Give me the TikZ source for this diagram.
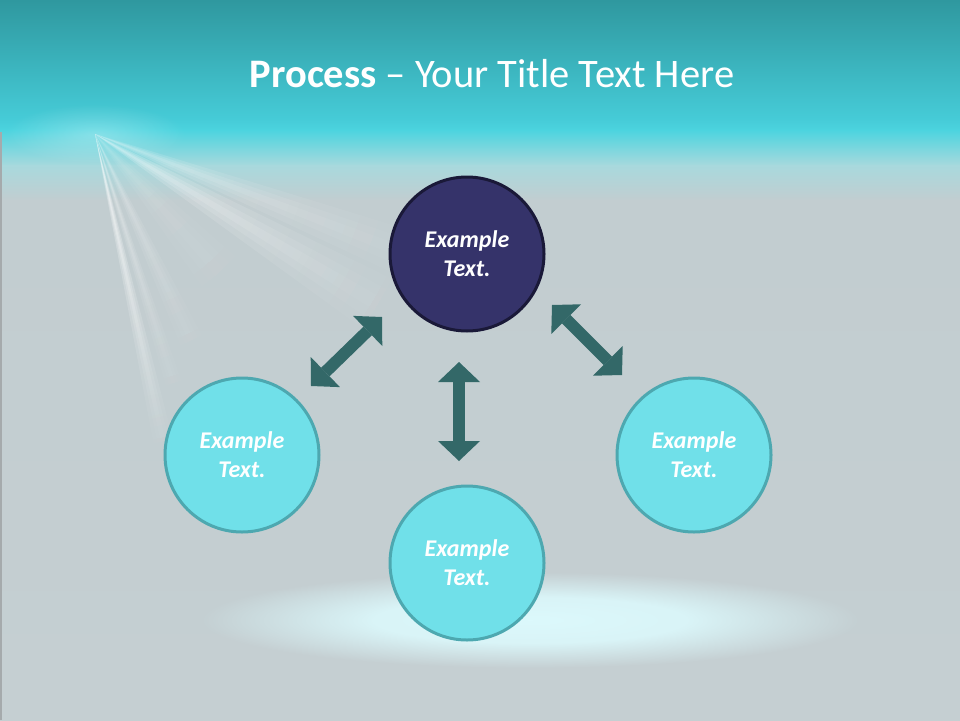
\documentclass[tikz,border=0pt]{standalone}
\usepackage{fontspec}
\setmainfont{Carlito}
\usetikzlibrary{arrows.meta,fadings}

\definecolor{bgA}{HTML}{2F989F}
\definecolor{bgB}{HTML}{46CCD8}
\definecolor{bgC}{HTML}{4CD4DF}
\definecolor{bgD}{HTML}{A8D9DD}
\definecolor{bgE}{HTML}{C2CDD0}
\definecolor{bgF}{HTML}{C5CFD2}
\definecolor{edgec}{HTML}{A5AAAC}
\definecolor{navy}{HTML}{35336A}
\definecolor{navyline}{HTML}{1A1938}
\definecolor{cyanfill}{HTML}{70E0E9}
\definecolor{cyanline}{HTML}{4DA8B0}
\definecolor{arrowc}{HTML}{336868}
\definecolor{glowc}{HTML}{DCF9FC}

\tikzfading[name=rayfade, inner color=transparent!5, outer color=transparent!100]
\pgfdeclareradialshading{glowshape}{\pgfpointorigin}{rgb(0bp)=(1,1,1); rgb(12bp)=(0.88,0.88,0.88); rgb(25bp)=(0,0,0); rgb(50bp)=(0,0,0)}
\pgfdeclarefading{glowfade}{\pgfuseshading{glowshape}}

\newcommand{\lightwedge}[4]{%
  \begin{scope}
    \clip (rayo) -- +(#1:#4) -- +(#2:#4) -- cycle;
    \fill[white, opacity=#3, path fading=rayfade] (rayo) circle (#4);
  \end{scope}}
% soft ray: centre angle, half width, opacity, length
\newcommand{\softray}[4]{%
  \pgfmathsetmacro\rA{#1-#2}\pgfmathsetmacro\rB{#1+#2}%
  \pgfmathsetmacro\rC{#1-0.6*#2}\pgfmathsetmacro\rD{#1+0.6*#2}%
  \pgfmathsetmacro\rE{#1-0.25*#2}\pgfmathsetmacro\rF{#1+0.25*#2}%
  \pgfmathsetmacro\oA{0.35*#3}%
  \lightwedge{\rA}{\rB}{\oA}{#4}%
  \lightwedge{\rC}{\rD}{\oA}{#4}%
  \lightwedge{\rE}{\rF}{\oA}{#4}}

\tikzset{
  bubble/.style={circle, minimum size=154pt, inner sep=0pt, line width=3pt,
    align=center, text=white, font=\fontsize{24}{29.3}\selectfont\bfseries\itshape},
  navybubble/.style={bubble, draw=navyline, fill=navy},
  cyanbubble/.style={bubble, draw=cyanline, fill=cyanfill},
  dblarrow/.style={draw=arrowc, line width=12pt,
    {Triangle[length=20pt,width=42pt,line width=0pt]}-{Triangle[length=20pt,width=42pt,line width=0pt]}},
  titletext/.style={anchor=base, text=white, inner sep=0pt, font=\fontsize{40.5}{48}\selectfont}
}

\begin{document}
\begin{tikzpicture}[x=1pt,y=-1pt]
\useasboundingbox (0,0) rectangle (960,720);

% background
\fill[bgF] (0,0) rectangle (960,720);
\shade[top color=bgA, bottom color=bgB] (0,0) rectangle (960,121);
\shade[top color=bgB, bottom color=bgC] (0,120) rectangle (960,131);
\shade[top color=bgC, bottom color=bgD] (0,130) rectangle (960,166);
\shade[top color=bgD, bottom color=bgE] (0,165) rectangle (960,201);
\shade[top color=bgE, bottom color=bgF] (0,200) rectangle (960,720);
\fill[edgec] (0,132) rectangle (2,720);

% light rays
\coordinate (rayo) at (95,134);
\begin{scope}
  \clip (0,126) rectangle (960,720);
  \softray{77.5}{1.8}{1.0}{330}
  \softray{72.5}{1.8}{0.5}{290}
  \softray{65}{3}{0.4}{260}
  \softray{48}{7}{0.2}{250}
  \softray{31}{5}{0.6}{360}
  \softray{21}{4}{0.45}{380}
\end{scope}
\fill[white, opacity=0.3, path fading=rayfade] (rayo) ellipse [x radius=90, y radius=30];

% bottom glow
\coordinate (glow) at (530,620);
\fill[glowc, path fading=glowfade] (glow) ellipse [x radius=330, y radius=48];

% title
\node[titletext] (title) at (492,87) {\textbf{Process} – Your Title Text Here};

% arrows
\coordinate (la) at (311,386); \coordinate (lb) at (382,317);
\coordinate (va) at (459,362); \coordinate (vb) at (459,461);
\coordinate (ra) at (552,305); \coordinate (rb) at (622,375);
\draw[dblarrow] (la) -- (lb);
\draw[dblarrow] (va) -- (vb);
\draw[dblarrow] (ra) -- (rb);

% circles
\node[navybubble] (top) at (467,254) {Example\\Text.};
\node[cyanbubble] (left) at (242,455) {Example\\Text.};
\node[cyanbubble] (right) at (694,455) {Example\\Text.};
\node[cyanbubble] (bottom) at (467,563) {Example\\Text.};
\end{tikzpicture}
\end{document}
